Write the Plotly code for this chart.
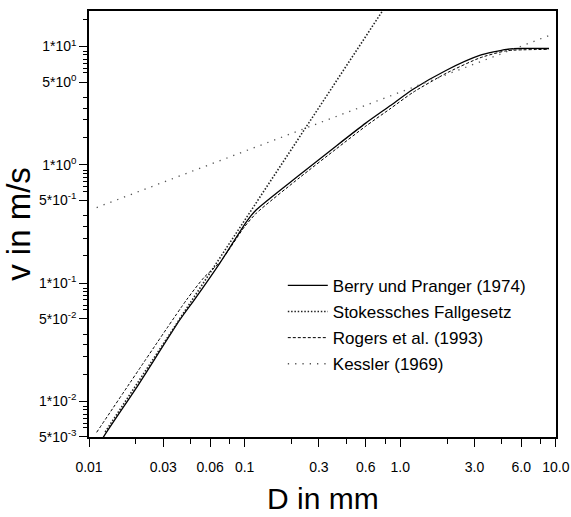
import plotly.graph_objects as go

# --- data ---
berry_D = [0.0112, 0.0124, 0.02, 0.0384, 0.048, 0.0693, 0.103, 0.119, 0.226, 0.39, 0.6, 0.86, 1.21, 1.98, 3.24, 4.82, 5.86, 9.04]
berry_v = [0.0039, 0.005, 0.0128, 0.049, 0.0735, 0.1475, 0.331, 0.416, 0.822, 1.45, 2.25, 3.15, 4.35, 6.3, 8.4, 9.45, 9.62, 9.62]

stokes_D = [0.0127, 0.03, 0.1, 0.3, 0.85]
stokes_v = [0.0055, 0.0304, 0.338, 3.04, 24.4]

rogers_D = [0.0112, 0.0424, 0.055, 0.07, 0.1, 0.119, 0.226, 0.39, 0.6, 0.86, 1.21, 1.98, 3.24, 4.82, 9.04]
rogers_v = [0.00547, 0.0723, 0.112, 0.152, 0.30, 0.39, 0.78, 1.37, 2.12, 2.97, 4.1, 5.95, 8.0, 9.2, 9.45]

kessler_D = [0.0112, 0.1, 1.0, 9.4]
kessler_v = [0.435, 1.30, 4.1, 12.6]

x_tickvals = [0.01, 0.03, 0.06, 0.1, 0.3, 0.6, 1.0, 3.0, 6.0, 10.0]
x_ticktext = ["0.01", "0.03", "0.06", "0.1", "0.3", "0.6", "1.0", "3.0", "6.0", "10.0"]
x_minor = [0.02, 0.045, 0.08, 0.2, 0.45, 0.8, 2.0, 4.5, 8.0]

y_tickvals = [0.005, 0.01, 0.05, 0.1, 0.5, 1, 5, 10]
y_ticktext = ["5*10<sup>-3</sup>", "1*10<sup>-2</sup>", "5*10<sup>-2</sup>", "1*10<sup>-1</sup>",
              "5*10<sup>-1</sup>", "1*10<sup>0</sup>", "5*10<sup>0</sup>", "1*10<sup>1</sup>"]
y_minor_mult = [1.7, 2.4, 3.0, 3.7, 6.0, 6.5, 7.2, 7.8, 8.5, 9.0]
y_minor = [m * d for d in [0.001, 0.01, 0.1, 1, 10] for m in y_minor_mult]

x_title = "D in mm"
y_title = "v in m/s"

FONT = "Liberation Sans, Arial, sans-serif"

fig = go.Figure()
fig.add_trace(go.Scatter(x=berry_D, y=berry_v, mode="lines", name="Berry und Pranger (1974)",
                         legendgroup="a", line=dict(color="black", width=1.3, shape="spline", smoothing=0.6)))
fig.add_trace(go.Scatter(x=stokes_D, y=stokes_v, mode="lines", name="Stokessches Fallgesetz",
                         legendgroup="b", line=dict(color="#222", width=1.6, dash="1.5px,1.8px")))
fig.add_trace(go.Scatter(x=rogers_D, y=rogers_v, mode="lines", name="Rogers et al. (1993)",
                         legendgroup="c", line=dict(color="black", width=1, dash="3px,2px", shape="spline", smoothing=0.6)))
fig.add_trace(go.Scatter(x=kessler_D, y=kessler_v, mode="lines", name="Kessler (1969)",
                         legendgroup="d", line=dict(color="#555", width=1.3, dash="1.3px,6px")))

fig.update_layout(
    width=571, height=517,
    margin=dict(l=89, r=15, t=11, b=80),
    paper_bgcolor="white", plot_bgcolor="white",
    font=dict(family=FONT, color="black", size=14),
    showlegend=True,
    legend=dict(x=0.415, y=0.397, xanchor="left", yanchor="top", bgcolor="rgba(0,0,0,0)",
                font=dict(family=FONT, size=17, color="black"), tracegroupgap=1, itemwidth=40),
    annotations=[dict(text=x_title, xref="paper", yref="paper", x=0.5, y=-0.145,
                      xanchor="center", yanchor="middle", showarrow=False,
                      font=dict(family=FONT, size=30, color="black"))],
)
fig.update_xaxes(type="log", range=[-2, 1.001], automargin=False,
                 showline=True, linecolor="black", linewidth=1.5, mirror=True,
                 showgrid=False, zeroline=False, ticks="outside", ticklen=8, tickwidth=1, tickcolor="black",
                 tickmode="array", tickvals=x_tickvals, ticktext=x_ticktext, ticklabelstandoff=8,
                 tickfont=dict(size=14),
                 minor=dict(tickmode="array", tickvals=x_minor, ticks="outside", ticklen=5, tickcolor="black", showgrid=False))
fig.update_yaxes(type="log", range=[-2.3015, 1.30], automargin=False,
                 showline=True, linecolor="black", linewidth=1.5, mirror=True,
                 showgrid=False, zeroline=False, ticks="outside", ticklen=8, tickwidth=1, tickcolor="black",
                 tickmode="array", tickvals=y_tickvals, ticktext=y_ticktext, ticklabelstandoff=0,
                 tickfont=dict(size=14),
                 minor=dict(tickmode="array", tickvals=y_minor, ticks="outside", ticklen=4, tickcolor="black", showgrid=False),
                 title=dict(text=y_title, font=dict(size=33), standoff=4))

fig.write_html("out.html")
